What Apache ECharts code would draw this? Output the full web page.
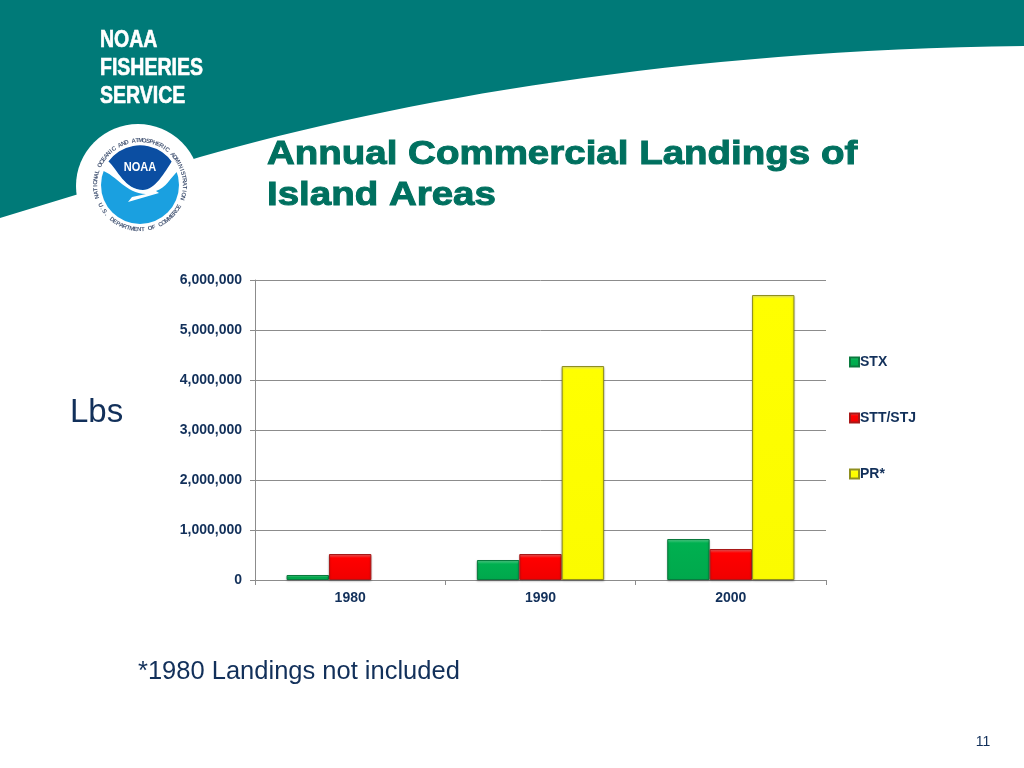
<!DOCTYPE html>
<html><head><meta charset="utf-8">
<style>html,body{margin:0;padding:0;background:#fff}#c{width:1024px;height:768px}</style>
<script src="https://cdn.jsdelivr.net/npm/echarts@6/dist/echarts.min.js"></script>
</head><body><div id="c"></div>
<script>
const categories = ['1980','1990','2000'];
const stx = [100000,400000,820000];
const sttStj = [520000,520000,620000];
const pr = [null,4280000,5700000];
const seriesNames = ['STX','STT/STJ','PR*'];

const TEAL='#007A78', INK='#12305A', GRID='#8C8C8C';
const PX_PER_UNIT=300/6000000;
const grad=(a,b,c,stop)=>({type:'linear',x:0,y:0,x2:0,y2:1,colorStops:[{offset:0,color:a},{offset:stop,color:b},{offset:1,color:c}]});
const mk=(name,data,light,fill,low,edge)=>({
  name,type:'bar',barWidth:42.4,barGap:'0%',
  data:data.map(v=>v==null?null:{value:v,itemStyle:{color:grad(light,fill,low,Math.min(.5,4/(v*PX_PER_UNIT)))}}),
  itemStyle:{color:grad(light,fill,low,.3),borderColor:edge,borderWidth:1,shadowColor:'rgba(0,0,0,.25)',shadowBlur:2,shadowOffsetY:1}
});
const arcText=(str,cx,cy,r,startDeg,endDeg,inward)=>{
  const n=str.length,out=[];
  for(let i=0;i<n;i++){
    const d=startDeg+(endDeg-startDeg)*(n===1?0:i/(n-1));
    const a=d*Math.PI/180;
    out.push({type:'text',silent:true,x:cx+r*Math.cos(a),y:cy+r*Math.sin(a),
      rotation:inward?-(a-Math.PI/2):-(a+Math.PI/2),
      style:{text:str[i],fill:'#4a5a78',font:'bold 6px "Liberation Sans"',align:'center',verticalAlign:'middle'},z:5});
  }
  return out;
};
const regPath=(name,d)=>echarts.graphic.registerShape(name,echarts.graphic.extendPath(d,{}));
regPath('banner','M0 0 L1024 0 L1024 46 C680 50 400 100 200 157 L0 218 Z');
regPath('logoDark','M108 162 A39 39 0 0 1 172 162 C166 172 160 190 143 190 C125 190 118 170 108 162 Z');
regPath('logoBird','M101 170 L108 161 C118 170 125 190 143 190 C155 190 165 172 172 161 L179 170 C170 178 166 188 156 191 L159 193 L128 202 L132 197 L146 194 C125 193 118 176 101 170 Z');
const LX=140,LY=185;
const label=(text,x,y,font,fill,extra={})=>({type:'text',silent:true,x,y,z:6,...extra.el,
  style:{text,fill,font,align:extra.align||'left',verticalAlign:'middle',...extra.style}});
const HEAD='bold 23.5px "Liberation Sans"', TITLE='bold 34px "Liberation Sans"';
const headOpts={el:{scaleX:.83},style:{stroke:'#fff',lineWidth:.6}};
const titleOpts={el:{scaleX:1.132},style:{stroke:'#00705F',lineWidth:1}};
const graphics=[
  {type:'banner',silent:true,z:0,style:{fill:TEAL}},
  {type:'circle',silent:true,z:1,shape:{cx:138,cy:186,r:62},style:{fill:'#fff'}},
  {type:'circle',silent:true,z:2,shape:{cx:LX,cy:LY,r:39},style:{fill:'#1AA0E0'}},
  {type:'logoDark',silent:true,z:3,style:{fill:'#0B4EA2'}},
  {type:'logoBird',silent:true,z:4,style:{fill:'#fff'}},
  label('NOAA',LX,167,'bold 13px "Liberation Sans"','#fff',{align:'center',el:{scaleX:.85}}),
  ...arcText('NATIONAL OCEANIC AND ATMOSPHERIC ADMINISTRATION',LX,LY,44.5,-195,17,false),
  ...arcText('U.S. DEPARTMENT OF COMMERCE',LX,LY,44.5,153,29,true),
  label('NOAA',100,41,HEAD,'#fff',headOpts),
  label('FISHERIES',100,69,HEAD,'#fff',headOpts),
  label('SERVICE',100,97,HEAD,'#fff',headOpts),
  label('Annual Commercial Landings of',267,155,TITLE,'#00705F',titleOpts),
  label('Island Areas',267,196,TITLE,'#00705F',titleOpts),
  label('Lbs',70,413,'33px "Liberation Sans"',INK),
  label('*1980 Landings not included',138,672,'25.5px "Liberation Sans"',INK),
  label('11',983,742,'14px "Liberation Sans"',INK,{align:'center'})
];
const chart=echarts.init(document.getElementById('c'),null,{renderer:'canvas'});
chart.setOption({
  animation:false,backgroundColor:'#fff',
  color:['#00B050','#FF0000','#FFFF00'],
  grid:{left:255,right:198,top:280,bottom:188,containLabel:false},
  legend:{orient:'vertical',left:844,top:350,itemWidth:9,itemHeight:9,itemGap:42,
    data:seriesNames.map(n=>({name:n,icon:'rect'})),
    textStyle:{color:INK,fontFamily:'Liberation Sans',fontWeight:'bold',fontSize:14,padding:[0,0,0,-4]}},
  xAxis:{type:'category',data:categories,
    axisLine:{lineStyle:{color:GRID,width:1}},axisTick:{show:true,alignWithLabel:false,length:5,lineStyle:{color:GRID}},
    axisLabel:{color:INK,fontFamily:'Liberation Sans',fontWeight:'bold',fontSize:14,margin:11}},
  yAxis:{type:'value',min:0,max:6000000,interval:1000000,
    axisLine:{show:true,lineStyle:{color:GRID}},axisTick:{show:true,length:5,lineStyle:{color:GRID}},
    splitLine:{lineStyle:{color:GRID,width:1}},
    axisLabel:{color:INK,fontFamily:'Liberation Sans',fontWeight:'bold',fontSize:14,margin:13,padding:[2,0,0,0],
      formatter:v=>v.toLocaleString('en-US')}},
  series:[
    mk(seriesNames[0],stx,'#5FE59A','#00B050','#00A84C','#0A7A3E'),
    mk(seriesNames[1],sttStj,'#FF6A6A','#FF0000','#F00000','#A81818'),
    mk(seriesNames[2],pr,'#FFFF80','#FFFF00','#FBFB00','#8F8F20')
  ],
  graphic:graphics
});
</script></body></html>
